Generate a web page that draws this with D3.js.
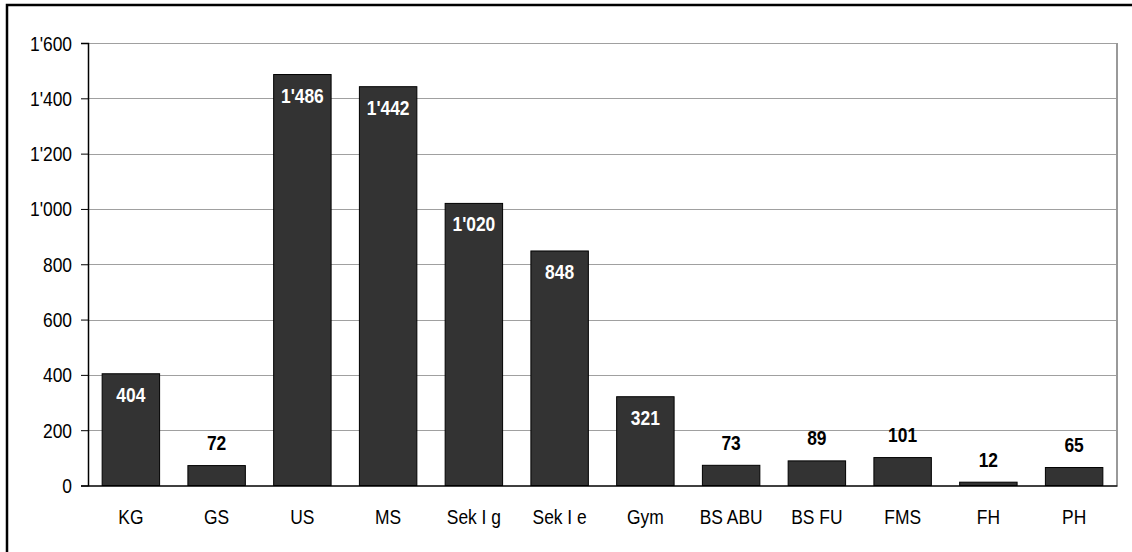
<!DOCTYPE html>
<html>
<head>
<meta charset="utf-8">
<script src="https://cdn.jsdelivr.net/npm/d3@7"></script>
<style>
  html, body { margin: 0; padding: 0; background: #fff; }
  svg { display: block; }
  text { font-family: "Liberation Sans", Arial, sans-serif; }
</style>
</head>
<body>
<svg id="chart" width="1132" height="552"></svg>
<script>
const categories = ["KG", "GS", "US", "MS", "Sek I g", "Sek I e", "Gym", "BS ABU", "BS FU", "FMS", "FH", "PH"];
const values = [404, 72, 1486, 1442, 1020, 848, 321, 73, 89, 101, 12, 65];
const yTicks = [0, 200, 400, 600, 800, 1000, 1200, 1400, 1600];

(function () {
const svg = d3.select("#chart");
const mLeft = 88, mRight = 1117, mTop = 43, mBottom = 485.5;
const FS = 20, SX = 0.87;
const fmt = v => d3.format(",")(v).replace(/,/g, "'");

// outer frame
svg.append("rect").attr("x", 7).attr("y", 5).attr("width", 1300).attr("height", 700)
  .attr("fill", "#fff").attr("stroke", "#000").attr("stroke-width", 2.5);

const x = d3.scaleBand().domain(categories).range([mLeft, mRight]).paddingInner(0.33).paddingOuter(0.165);
const y = d3.scaleLinear().domain([0, 1600]).range([mBottom, mTop]);

// gridlines
svg.append("g").selectAll("line").data(yTicks.filter(t => t > 0)).join("line")
  .attr("x1", mLeft).attr("x2", mRight)
  .attr("y1", d => Math.round(y(d)) + 0.5).attr("y2", d => Math.round(y(d)) + 0.5)
  .attr("stroke", "#a0a0a0").attr("stroke-width", 1);
// right border
svg.append("line").attr("x1", mRight).attr("x2", mRight).attr("y1", mTop).attr("y2", mBottom)
  .attr("stroke", "#999").attr("stroke-width", 2);

// bars
svg.append("g").selectAll("rect").data(values).join("rect")
  .attr("x", (d, i) => x(categories[i]))
  .attr("y", d => y(d))
  .attr("width", x.bandwidth())
  .attr("height", d => y(0) - y(d))
  .attr("fill", "#333333").attr("stroke", "#000").attr("stroke-width", 1);

// y axis
const yAxis = d3.axisLeft(y).tickValues(yTicks).tickFormat(fmt).tickSize(7).tickPadding(9);
const gy = svg.append("g").attr("transform", `translate(${mLeft},0)`).call(yAxis);
gy.select(".domain").attr("stroke", "#000").attr("stroke-width", 1.5);
gy.selectAll(".tick line").attr("stroke", "#000");
gy.selectAll(".tick text").attr("font-size", FS).attr("fill", "#000")
  .attr("font-family", "'Liberation Sans', Arial, sans-serif")
  .attr("x", 0).attr("dy", "0.35em")
  .attr("transform", `translate(-16,0) scale(${SX},1)`);

// x axis
const xAxis = d3.axisBottom(x).tickSize(0).tickPadding(0);
const gx = svg.append("g").attr("transform", `translate(0,${mBottom})`).call(xAxis);
gx.select(".domain").attr("stroke", "#000").attr("stroke-width", 1.5);
gx.selectAll(".tick text").attr("font-size", FS).attr("fill", "#000")
  .attr("font-family", "'Liberation Sans', Arial, sans-serif")
  .attr("y", 0).attr("dy", 0)
  .attr("transform", `translate(0,38) scale(${SX},1)`);

// value labels
svg.append("g").selectAll("text").data(values).join("text")
  .attr("transform", (d, i) => {
    const cx = x(categories[i]) + x.bandwidth() / 2;
    const cy = (y(0) - y(d) > 40) ? y(d) + 28 : y(d) - 15.5;
    return `translate(${cx},${cy}) scale(${SX},1)`;
  })
  .attr("text-anchor", "middle")
  .attr("font-size", FS).attr("font-weight", "bold")
  .attr("fill", d => (y(0) - y(d) > 40) ? "#fff" : "#000")
  .text(d => fmt(d));
})();
</script>
</body>
</html>
